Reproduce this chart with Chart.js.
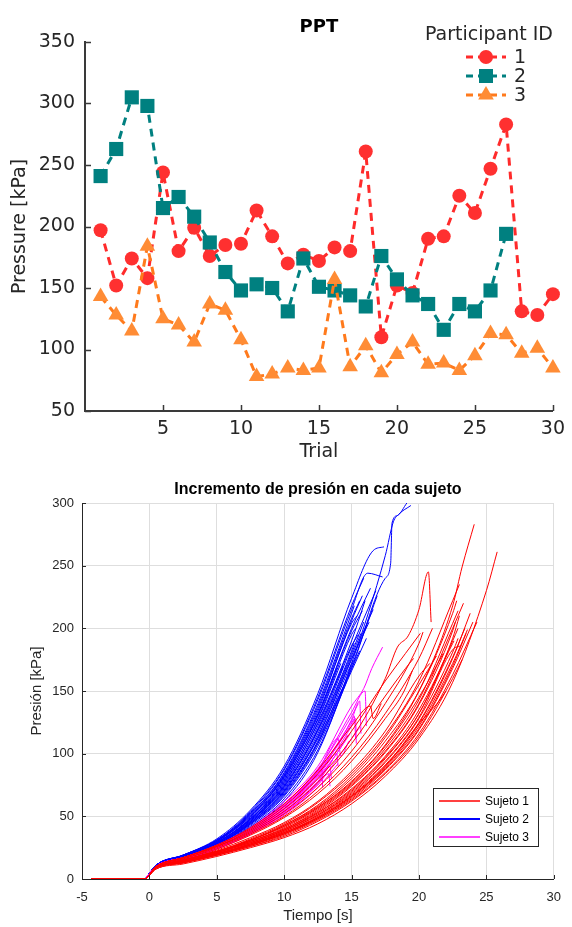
<!DOCTYPE html>
<html>
<head>
<meta charset="utf-8">
<script src="https://cdn.jsdelivr.net/npm/chart.js@4.4.1/dist/chart.umd.min.js"></script>
<style>
  html, body { margin: 0; padding: 0; background: #fff; }
  #wrap { position: relative; width: 572px; height: 927px; }
  #ppt { position: absolute; left: 0; top: 0; }
  #curvas { position: absolute; left: 0; top: 465px; }
</style>
</head>
<body>
<div id="wrap">
  <canvas id="ppt" width="572" height="465"></canvas>
  <canvas id="curvas" width="572" height="462"></canvas>
</div>
<script>
// ---- top chart: PPT per trial ----
const trialNumbers = [1, 2, 3, 4, 5, 6, 7, 8, 9, 10, 11, 12, 13, 14, 15, 16, 17, 18, 19, 20, 21, 22, 23, 24, 25, 26, 27, 28, 29, 30];
const pptParticipant1 = [197, 152, 174, 158, 244, 180, 199, 176, 185, 186, 213, 192, 170, 177, 172, 183, 180, 261, 110, 152, 146, 190, 192, 225, 211, 247, 283, 131, 128, 145];
const pptParticipant2 = [241, 263, 305, 298, 215, 224, 208, 187, 163, 148, 153, 150, 131, 174, 151, 148, 144, 135, 176, 157, 144, 137, 116, 137, 131, 148, 194];
const pptParticipant3 = [143, 128, 115, 184, 125, 120, 106, 137, 132, 108, 78, 80, 85, 83, 85, 157, 86, 103, 81, 96, 106, 88, 89, 83, 95, 113, 112, 97, 101, 85];
const participantIds = ['1', '2', '3'];

// ---- bottom chart: pressure curves per subject ----
// each curve: [pressures at sampleTimes (as far as it goes), extra [time, pressure] points at the end]
const sampleTimes = [0.5, 2.5, 5, 7.5, 10, 12.5, 15, 17.5, 20, 22.5, 25];
const sujeto1Onset = [[-4.3, 0], [-0.4, 0]];
const sujeto2Onset = [[-0.3, 0]];
const sujeto3Onset = [[-0.3, 0]];

const sujeto1Curves = [
  [[10, 17, 26, 39, 56, 80, 112, 160], [[18.4, 185], [19.2, 194], [20.0, 215], [20.7, 245], [20.9, 205]]],
  [[10, 17, 27, 40, 58, 84, 118, 158], [[19.0, 180], [20.1, 196]]],
  [[10, 17, 26, 38, 54, 77, 108, 146], [[19.0, 168], [19.6, 176]]],
  [[10, 17, 26, 37, 52, 73, 102, 140, 188], [[20.3, 197]]],
  [[10, 17, 27, 41, 60, 87, 122], [[16.4, 138], [16.6, 128], [17.2, 140]]],
  [[10, 16, 25, 36, 50, 70, 97, 132, 176], [[21.0, 200]]],
  [[10, 16, 24, 35, 49, 68, 94, 128], [[18.9, 150], [19.5, 166]]],
  [[9, 15, 22, 31, 43, 58, 80, 110, 150, 212], [[22.8, 222]]],
  [[9, 15, 22, 31, 42, 57, 78, 107, 150, 218], [[23.2, 249], [24.1, 283]]],
  [[9, 15, 22, 30, 41, 56, 76, 104, 143, 204], [[22.9, 214]]],
  [[9, 14, 21, 30, 40, 55, 75, 102, 140, 200], [[23.3, 220]]],
  [[9, 14, 21, 30, 40, 54, 74, 101, 139, 198], [[22.7, 205]]],
  [[9, 14, 21, 29, 39, 53, 72, 98, 135, 192], [[23.0, 210]]],
  [[9, 14, 21, 29, 39, 52, 70, 96, 132, 188], [[22.6, 190]]],
  [[9, 14, 20, 28, 38, 51, 69, 94, 129, 183], [[23.1, 186]]],
  [[9, 14, 20, 28, 38, 51, 68, 93, 128, 181], [[22.9, 192]]],
  [[9, 14, 20, 28, 37, 50, 67, 91, 125, 177], [[23.4, 200]]],
  [[9, 13, 20, 27, 36, 49, 66, 89, 122, 172], [[23.6, 199]]],
  [[9, 14, 20, 27, 37, 49, 66, 90, 124, 176], [[23.8, 212]]],
  [[9, 13, 20, 27, 36, 48, 64, 87, 119, 168], [[24.0, 205]]],
  [[9, 13, 19, 27, 36, 48, 65, 88, 120, 170], [[23.5, 196]]],
  [[9, 13, 19, 26, 35, 47, 63, 85, 116, 163], [[24.3, 205]]],
  [[8, 13, 19, 26, 34, 46, 62, 84, 114, 160], [[23.2, 175]]],
  [[8, 12, 18, 25, 33, 44, 60, 82, 112, 157, 230], [[25.8, 261]]],
  [[9, 15, 22, 31, 43, 59, 82, 113, 155], [[21.3, 178]]],
  [[9, 15, 22, 31, 42, 57, 77, 106, 145], [[21.8, 180]]],
  [[9, 15, 23, 33, 45, 62, 86, 118, 162], [[20.8, 172]]],
  [[9, 14, 21, 29, 39, 53, 71, 97, 132, 190], [[22.9, 200]]],
  [[9, 15, 22, 32, 44, 61, 84, 115, 158, 222], [[23.0, 235]]],
  [[9, 14, 20, 28, 37, 49, 66, 90, 124], [[21.5, 142], [22.0, 150]]]
];

const sujeto2Curves = [
  [[11, 19, 32, 55, 90, 148, 224], [[16.6, 262], [17.4, 265]]],
  [[11, 19, 31, 54, 88, 145, 218], [[15.9, 240]]],
  [[11, 19, 31, 53, 87, 143, 215], [[16.2, 244], [17.3, 241]]],
  [[11, 18, 30, 52, 84, 138, 208], [[15.6, 222]]],
  [[11, 19, 31, 51, 83, 136, 206], [[15.8, 226]]],
  [[10, 18, 30, 51, 82, 134, 204], [[15.4, 210]]],
  [[11, 18, 29, 49, 80, 131, 198], [[15.8, 214]]],
  [[11, 18, 30, 50, 81, 130], [[13.9, 168]]],
  [[10, 18, 29, 48, 79, 127], [[14.2, 172]]],
  [[10, 18, 29, 48, 78, 128, 195], [[15.3, 200]]],
  [[11, 18, 29, 48, 76, 125, 190], [[16.0, 222]]],
  [[10, 17, 28, 47, 75, 122, 186], [[15.5, 195]]],
  [[10, 18, 28, 46, 73, 119, 182], [[15.2, 188]]],
  [[10, 17, 28, 46, 74, 118, 180], [[15.9, 205]]],
  [[11, 18, 28, 46, 72, 116, 178], [[15.7, 196]]],
  [[10, 17, 27, 45, 70, 113, 175], [[16.3, 205]]],
  [[10, 17, 27, 45, 71, 114, 176], [[16.6, 215]]],
  [[10, 17, 27, 44, 69, 110, 172], [[15.1, 174]]],
  [[10, 17, 27, 44, 67, 108, 168], [[15.6, 182]]],
  [[10, 17, 26, 43, 66, 106, 166], [[16.1, 192]]],
  [[10, 17, 26, 42, 64, 103, 168, 240], [[17.9, 252], [18.0, 284], [18.4, 290], [19.1, 300]]],
  [[10, 17, 26, 41, 62, 101, 172, 258], [[18.1, 285], [18.5, 291], [19.4, 298]]],
  [[11, 18, 30, 50, 82, 132, 200], [[16.4, 232]]],
  [[11, 19, 31, 52, 85, 140, 212], [[15.2, 218]]],
  [[10, 18, 29, 47, 74, 120, 185], [[16.8, 230]]],
  [[10, 17, 28, 45, 70, 112], [[14.6, 158]]],
  [[11, 18, 29, 48, 77, 124], [[14.4, 170]]],
  [[10, 17, 27, 44, 68, 109, 170], [[16.9, 226]]]
];

const sujeto3Curves = [
  [[10, 17, 27, 41, 62, 90, 138], [[15.9, 152], [16.5, 168], [17.3, 185]]],
  [[10, 17, 26, 40, 60, 88, 130], [[15.5, 140]]],
  [[10, 17, 26, 40, 60, 87, 133], [[16.0, 150], [16.1, 122]]],
  [[10, 17, 26, 39, 58, 84, 127], [[15.6, 142], [15.7, 116]]],
  [[10, 17, 26, 39, 59, 86, 126], [[15.2, 130], [15.3, 112]]],
  [[10, 16, 25, 38, 57, 82, 122], [[15.3, 128], [15.35, 108]]],
  [[10, 17, 26, 39, 58, 85], [[14.6, 117], [15.2, 128]]],
  [[10, 16, 25, 37, 55, 80], [[14.4, 108], [14.9, 116]]],
  [[10, 16, 24, 36, 53, 76, 112], [[15.6, 121]]],
  [[10, 16, 24, 37, 54, 78], [[13.4, 90], [13.5, 80]]],
  [[10, 16, 25, 38, 56, 83], [[13.9, 100], [14.0, 90]]],
  [[10, 16, 24, 36, 52, 75], [[13.3, 84], [13.4, 74]]],
  [[10, 16, 24, 36, 51, 73], [[14.0, 92]]],
  [[10, 16, 24, 37, 53, 77], [[13.6, 95]]],
  [[10, 16, 25, 38, 56], [[12.0, 78], [12.8, 88], [12.85, 73]]],
  [[10, 16, 25, 37, 54], [[11.8, 70]]],
  [[10, 16, 25, 38, 56, 81], [[14.2, 105], [14.7, 115]]],
  [[10, 17, 26, 40, 59, 86], [[14.0, 112], [14.2, 98], [14.8, 110]]]
];
const sujetoNames = ['Sujeto 1', 'Sujeto 2', 'Sujeto 3'];

function xy(xs, ys) {
  return ys.map((y, i) => ({x: xs[i], y: y}));
}

function curvePoints(onset, curve) {
  const pts = onset.map(p => ({x: p[0], y: p[1]}));
  curve[0].forEach((y, i) => pts.push({x: sampleTimes[i], y: y}));
  curve[1].forEach(p => pts.push({x: p[0], y: p[1]}));
  return pts;
}

function innerTicks(len, color, width) {
  return {
    id: 'innerTicks',
    afterDraw(chart) {
      const ctx = chart.ctx, a = chart.chartArea;
      const xs = chart.scales.x, ys = chart.scales.y;
      ctx.save();
      ctx.strokeStyle = color;
      ctx.lineWidth = width;
      ctx.beginPath();
      xs.ticks.forEach(t => {
        const px = Math.round(xs.getPixelForValue(t.value)) + 0.5;
        ctx.moveTo(px, a.bottom);
        ctx.lineTo(px, a.bottom - len);
      });
      ys.ticks.forEach(t => {
        const py = Math.round(ys.getPixelForValue(t.value)) + 0.5;
        ctx.moveTo(a.left, py);
        ctx.lineTo(a.left + len, py);
      });
      ctx.stroke();
      ctx.restore();
    }
  };
}

function drawMarker(ctx, style, x, y, color) {
  ctx.fillStyle = color;
  ctx.beginPath();
  if (style === 'circle') {
    ctx.arc(x, y, 7, 0, Math.PI * 2);
  } else if (style === 'rect') {
    ctx.rect(x - 7, y - 7, 14, 14);
  } else {
    ctx.moveTo(x, y - 9);
    ctx.lineTo(x + 7.8, y + 4.5);
    ctx.lineTo(x - 7.8, y + 4.5);
    ctx.closePath();
  }
  ctx.fill();
}

const pptDecor = {
  id: 'pptDecor',
  afterDraw(chart) {
    const ctx = chart.ctx, a = chart.chartArea;
    ctx.save();
    ctx.textBaseline = 'middle';
    ctx.textAlign = 'center';
    ctx.fillStyle = '#000';
    ctx.font = 'bold 18px "DejaVu Sans"';
    ctx.fillText('PPT', (a.left + a.right) / 2, 27);
    ctx.fillStyle = '#262626';
    ctx.font = '19px "DejaVu Sans"';
    ctx.fillText('Participant ID', 489, 35);
    chart.data.datasets.forEach((ds, i) => {
      const yy = 57 + i * 19;
      ctx.strokeStyle = ds.borderColor;
      ctx.lineWidth = 3;
      ctx.setLineDash([7, 5]);
      ctx.beginPath();
      ctx.moveTo(466, yy);
      ctx.lineTo(506, yy);
      ctx.stroke();
      ctx.setLineDash([]);
      drawMarker(ctx, ds.pointStyle, 486, yy, ds.backgroundColor);
      ctx.fillStyle = '#262626';
      ctx.textAlign = 'left';
      ctx.fillText(ds.label, 514, yy + 1);
    });
    ctx.restore();
  }
};

const pptStyles = [
  {line: '#ff2b2b', fill: '#ff3030', point: 'circle', radius: 7},
  {line: '#008080', fill: '#008080', point: 'rect', radius: 10},
  {line: '#ff7a1c', fill: '#ff8c35', point: 'triangle', radius: 9}
];
const pptSeries = [pptParticipant1, pptParticipant2, pptParticipant3];

new Chart(document.getElementById('ppt'), {
  type: 'line',
  data: {
    datasets: pptSeries.map((values, i) => ({
      label: participantIds[i],
      data: xy(trialNumbers, values),
      borderColor: pptStyles[i].line,
      backgroundColor: pptStyles[i].fill,
      borderWidth: 3,
      borderDash: [8, 6],
      pointStyle: pptStyles[i].point,
      pointRadius: pptStyles[i].radius,
      pointBorderWidth: 0,
      pointBackgroundColor: pptStyles[i].fill,
      tension: 0,
      clip: false,
      order: 2 - i
    }))
  },
  options: {
    responsive: false,
    animation: false,
    events: [],
    layout: {padding: {top: 42, right: 17, left: 0, bottom: 0}},
    plugins: {legend: {display: false}, tooltip: {enabled: false}},
    scales: {
      x: {
        type: 'linear', min: 0, max: 30,
        afterBuildTicks: s => { s.ticks = s.ticks.filter(t => t.value !== 0); },
        afterFit: s => { s.height = 54; },
        ticks: {stepSize: 5, padding: 7, color: '#262626', font: {family: 'DejaVu Sans', size: 19}},
        grid: {display: false, drawTicks: false},
        border: {display: true, color: '#3a3a3a', width: 2},
        title: {display: true, text: 'Trial', color: '#262626', font: {family: 'DejaVu Sans', size: 19}, padding: {top: 0, bottom: 2}}
      },
      y: {
        min: 50, max: 350,
        afterFit: s => { s.width = 85; },
        ticks: {stepSize: 50, padding: 10, color: '#262626', font: {family: 'DejaVu Sans', size: 19}},
        grid: {display: false, drawTicks: false},
        border: {display: true, color: '#3a3a3a', width: 2},
        title: {display: true, text: 'Pressure [kPa]', color: '#262626', font: {family: 'DejaVu Sans', size: 19}, padding: {top: 9, bottom: 0}}
      }
    }
  },
  plugins: [innerTicks(6, '#3a3a3a', 1.5), pptDecor]
});

// ---- bottom chart ----
const curveColors = ['#ff0000', '#0000ff', '#ff00ff'];

const curvasDecor = {
  id: 'curvasDecor',
  afterDraw(chart) {
    const ctx = chart.ctx, a = chart.chartArea;
    ctx.save();
    ctx.fillStyle = '#000';
    ctx.textAlign = 'center';
    ctx.textBaseline = 'middle';
    ctx.font = 'bold 16px "Liberation Sans"';
    ctx.fillText('Incremento de presión en cada sujeto', (a.left + a.right) / 2, 25);
    // legend box
    ctx.fillStyle = '#fff';
    ctx.fillRect(433.5, 323.5, 105, 58);
    ctx.strokeStyle = '#262626';
    ctx.lineWidth = 1;
    ctx.strokeRect(433.5, 323.5, 105, 58);
    ctx.font = '12px "Liberation Sans"';
    ctx.textAlign = 'left';
    sujetoNames.forEach((name, i) => {
      const yy = 336 + i * 18;
      ctx.strokeStyle = curveColors[i];
      ctx.lineWidth = i === 1 ? 2 : 1.5;
      ctx.beginPath();
      ctx.moveTo(439, yy);
      ctx.lineTo(480, yy);
      ctx.stroke();
      ctx.fillStyle = '#000';
      ctx.fillText(name, 485, yy + 1);
    });
    ctx.restore();
  }
};

const curveSets = [
  {curves: sujeto1Curves, onset: sujeto1Onset, color: curveColors[0], order: 0},
  {curves: sujeto3Curves, onset: sujeto3Onset, color: curveColors[2], order: 1},
  {curves: sujeto2Curves, onset: sujeto2Onset, color: curveColors[1], order: 2}
];
const curveDatasets = [];
curveSets.forEach(set => {
  set.curves.forEach(c => {
    curveDatasets.push({
      data: curvePoints(set.onset, c),
      borderColor: set.color,
      borderWidth: 1,
      pointRadius: 0,
      cubicInterpolationMode: 'monotone',
      order: set.order
    });
  });
});

new Chart(document.getElementById('curvas'), {
  type: 'line',
  data: {datasets: curveDatasets},
  options: {
    responsive: false,
    animation: false,
    events: [],
    layout: {padding: {top: 38, right: 13, left: 0, bottom: 0}},
    plugins: {legend: {display: false}, tooltip: {enabled: false}},
    scales: {
      x: {
        type: 'linear', min: -5, max: 30,
        afterFit: s => { s.height = 48; },
        ticks: {stepSize: 5, padding: 11, color: '#262626', font: {family: 'Liberation Sans', size: 13}},
        grid: {color: '#dedede', lineWidth: 1, drawTicks: false},
        border: {display: true, color: '#262626', width: 1},
        title: {display: true, text: 'Tiempo [s]', color: '#262626', font: {family: 'Liberation Sans', size: 15}, padding: {top: 0, bottom: 2}}
      },
      y: {
        min: 0, max: 300,
        afterFit: s => { s.width = 82; },
        ticks: {stepSize: 50, padding: 8, color: '#262626', font: {family: 'Liberation Sans', size: 13}},
        grid: {color: '#dedede', lineWidth: 1, drawTicks: false},
        border: {display: true, color: '#262626', width: 1},
        title: {display: true, text: 'Presión [kPa]', color: '#262626', font: {family: 'Liberation Sans', size: 15}, padding: {top: 28, bottom: 0}}
      }
    }
  },
  plugins: [innerTicks(4, '#262626', 1), curvasDecor]
});
</script>
</body>
</html>
